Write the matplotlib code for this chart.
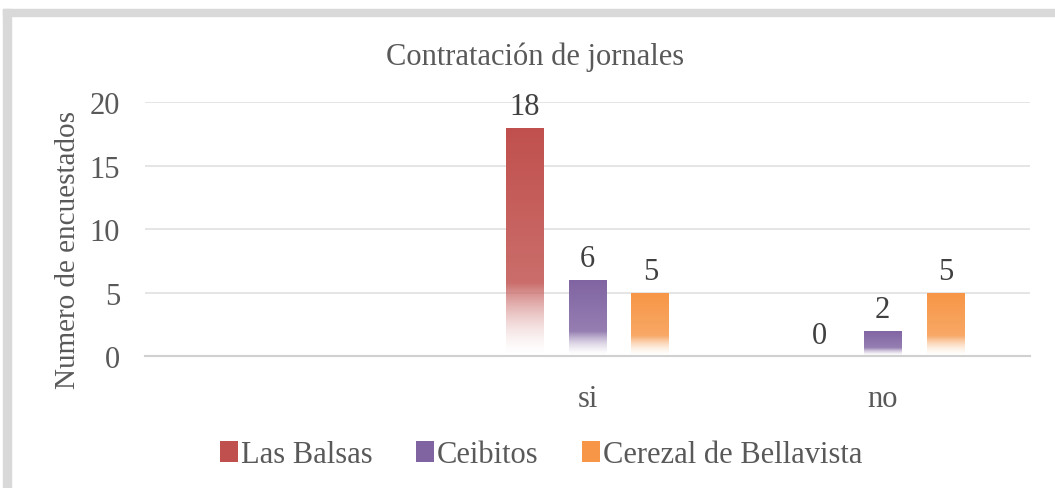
import numpy as np
import matplotlib.pyplot as plt
from matplotlib.patches import Patch, Rectangle
from matplotlib.colors import to_rgb

categories = ["", "si", "no"]
series_names = ["Las Balsas", "Ceibitos", "Cerezal de Bellavista"]
las_balsas = [None, 18, 0]
ceibitos = [None, 6, 2]
cerezal = [None, 5, 5]
colors = ["#c0504d", "#8064a2", "#f79646"]

plt.rcParams['font.family'] = ['Liberation Serif', 'DejaVu Serif']
txt = "#595959"

fig = plt.figure(figsize=[10.55, 4.89], dpi=100)
ax = fig.add_axes([0.1374, 0.270, 0.839, 0.519])

# frame round the chart (left and top)
fig.patches.append(Rectangle((0.003, 0), 0.007, 0.98, transform=fig.transFigure,
                             color="#d9d9d9", zorder=0))
fig.patches.append(Rectangle((0.003, 0.965), 0.997, 0.015, transform=fig.transFigure,
                             color="#d9d9d9", zorder=0))


def gradient(c):
    rgb = np.array(to_rgb(c))
    n = 200
    t = np.linspace(0, 1, n)[:, None]  # 0 bottom, 1 top
    light = rgb + (1 - rgb) * 0.25
    col = light * (1 - t) + rgb * t
    alpha = np.clip(t / 0.32, 0, 1) ** 1.6
    img = np.concatenate([col, alpha], axis=1)[:, None, :]
    return np.repeat(img, 2, axis=1)


x = np.arange(len(categories))
width = 0.128
step = 0.213
for i, (vals, c) in enumerate(zip([las_balsas, ceibitos, cerezal], colors)):
    g = gradient(c)
    for xi, v in zip(x, vals):
        if v is None:
            continue
        xpos = xi + (i - 1) * step
        bar = ax.bar(xpos, v, width, color="none", edgecolor="none")[0]
        if v > 0:
            im = ax.imshow(g, extent=[xpos - width / 2, xpos + width / 2, 0, v],
                           origin="lower", aspect="auto", zorder=2, interpolation="bilinear")
            im.set_clip_path(bar)
        ax.text(xpos, v + 0.5, str(v), ha="center", va="bottom", fontsize=22, color="#404040")

ax.set_xlim(-0.5, 2.5)
ax.set_ylim(0, 20)
ax.set_yticks([0, 5, 10, 15, 20])
ax.set_xticks(x)
ax.set_xticklabels(categories)
ax.tick_params(axis="both", length=0, labelsize=22, colors=txt)
ax.tick_params(axis="y", pad=18)
ax.tick_params(axis="x", pad=20)
ax.grid(axis="y", color="#e0e0e0", lw=1.2)
ax.set_axisbelow(True)
for s in ["top", "right", "left"]:
    ax.spines[s].set_visible(False)
ax.spines["bottom"].set_color("#d0d0d0")
ax.spines["bottom"].set_linewidth(1.5)

ax.set_ylabel("Numero de encuestados", fontsize=21, color=txt)
ax.yaxis.set_label_coords(-0.072, 0.42)
fig.text(0.507, 0.883, "Contratación de jornales", ha="center", va="center", fontsize=22, color=txt)

handles = [Patch(facecolor=c, edgecolor="none") for c in colors]
fig.legend(handles, series_names, loc="center", bbox_to_anchor=(0.513, 0.068), ncol=3,
           frameon=False, fontsize=22, labelcolor=txt, handlelength=0.6, handleheight=0.7,
           handletextpad=0.1, columnspacing=1.4)

fig.savefig("out.png", dpi=100)
